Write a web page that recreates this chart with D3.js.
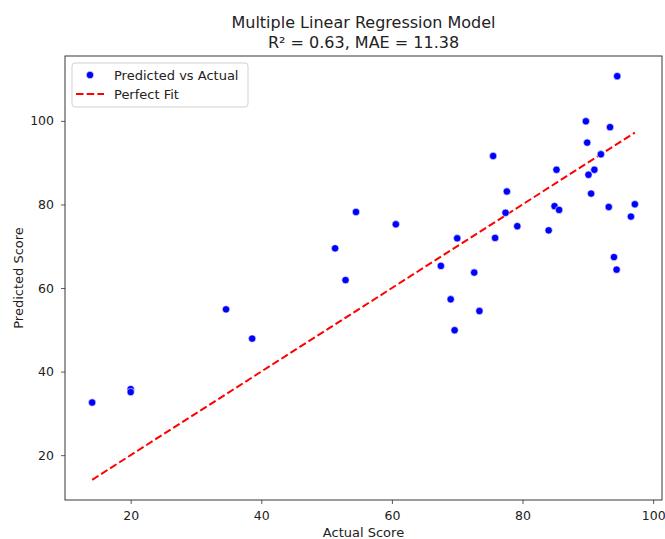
<!DOCTYPE html>
<html>
<head>
<meta charset="utf-8">
<script src="https://cdn.jsdelivr.net/npm/d3@7"></script>
<style>
  body { margin: 0; background: #fff; }
  text { font-family: "DejaVu Sans", sans-serif; fill: #222; }
</style>
</head>
<body>
<svg id="chart" width="665" height="539"></svg>
<script>
// datos
const actual = [14.1, 20.0, 20.0, 34.6, 38.6, 51.3, 54.5, 60.6, 52.9,
  94.5, 89.7, 93.4, 89.9, 92.0, 75.5, 85.2, 91.0, 90.1, 77.6, 90.5,
  84.9, 85.6, 93.2, 97.2, 96.6, 77.4, 79.2, 84.0, 70.0, 75.8,
  67.5, 72.6, 94.0, 94.4, 69.0, 73.4, 69.6];
const predicted = [32.6, 35.8, 35.1, 54.9, 47.9, 69.5, 78.2, 75.25, 61.9,
  110.7, 99.9, 98.5, 94.8, 92.0, 91.6, 88.3, 88.3, 87.1, 83.1, 82.6,
  79.6, 78.7, 79.4, 80.05, 77.1, 78.0, 74.8, 73.8, 71.9, 72.0,
  65.3, 63.7, 67.4, 64.4, 57.3, 54.5, 49.9];
const xTicks = [20, 40, 60, 80, 100];
const yTicks = [20, 40, 60, 80, 100];
const titleLines = ["Multiple Linear Regression Model", "R² = 0.63, MAE = 11.38"];

const svg = d3.select("#chart");
const m = { left: 65, right: 662, top: 56, bottom: 500 };

const points = actual.map((a, i) => ({ a: a, p: predicted[i] }));
const lo = d3.min(actual), hi = d3.max(actual);

// márgenes del 5% como matplotlib
const allY = predicted.concat([lo, hi]);
const xPad = (hi - lo) * 0.05;
const yMin = d3.min(allY), yMax = d3.max(allY);
const yPad = (yMax - yMin) * 0.05;

const x = d3.scaleLinear().domain([lo - xPad, hi + xPad]).range([m.left, m.right]);
const y = d3.scaleLinear().domain([yMin - yPad, yMax + yPad]).range([m.bottom, m.top]);

// ejes
const xAxis = svg.append("g")
  .attr("transform", `translate(0,${m.bottom})`)
  .call(d3.axisBottom(x).tickValues(xTicks).tickSize(4).tickPadding(7));
const yAxis = svg.append("g")
  .attr("transform", `translate(${m.left},0)`)
  .call(d3.axisLeft(y).tickValues(yTicks).tickSize(4).tickPadding(7));
[xAxis, yAxis].forEach(g => {
  g.select(".domain").remove();
  g.selectAll("line").attr("stroke", "#333").attr("stroke-width", 0.8);
  g.selectAll("text").style("font-size", "12.5px").attr("fill", "#222");
});

// marco
svg.append("rect")
  .attr("x", m.left).attr("y", m.top)
  .attr("width", m.right - m.left).attr("height", m.bottom - m.top)
  .attr("fill", "none").attr("stroke", "#222").attr("stroke-width", 0.9);

// línea de ajuste perfecto
svg.append("line")
  .attr("x1", x(lo)).attr("y1", y(lo))
  .attr("x2", x(hi)).attr("y2", y(hi))
  .attr("stroke", "red").attr("stroke-width", 2)
  .attr("stroke-dasharray", "7.5,3.2");

// puntos
svg.selectAll(".dot")
  .data(points)
  .enter()
  .append("circle")
  .attr("class", "dot")
  .attr("cx", d => x(d.a))
  .attr("cy", d => y(d.p))
  .attr("r", 3.7)
  .attr("fill", "blue")
  .attr("stroke", "white")
  .attr("stroke-width", 0.6);

// título
svg.selectAll(".title")
  .data(titleLines)
  .enter()
  .append("text")
  .attr("x", (m.left + m.right) / 2)
  .attr("y", (d, i) => 28 + i * 20)
  .attr("text-anchor", "middle")
  .style("font-size", "16px")
  .text(d => d);

// etiquetas de ejes
svg.append("text")
  .attr("x", (m.left + m.right) / 2).attr("y", 537)
  .attr("text-anchor", "middle")
  .style("font-size", "13px")
  .text("Actual Score");
svg.append("text")
  .attr("transform", `translate(23,${(m.top + m.bottom) / 2}) rotate(-90)`)
  .attr("text-anchor", "middle")
  .style("font-size", "13px")
  .text("Predicted Score");

// leyenda
const lg = svg.append("g");
lg.append("rect")
  .attr("x", 72).attr("y", 63)
  .attr("width", 176).attr("height", 44)
  .attr("rx", 3)
  .attr("fill", "white").attr("stroke", "#ccc").attr("stroke-width", 0.9);
lg.append("circle")
  .attr("cx", 90).attr("cy", 75).attr("r", 3.7)
  .attr("fill", "blue").attr("stroke", "white").attr("stroke-width", 0.6);
lg.append("line")
  .attr("x1", 76).attr("x2", 104).attr("y1", 94).attr("y2", 94)
  .attr("stroke", "red").attr("stroke-width", 2)
  .attr("stroke-dasharray", "7.5,3.2");
lg.append("text").attr("x", 114).attr("y", 80)
  .style("font-size", "13px").text("Predicted vs Actual");
lg.append("text").attr("x", 114).attr("y", 99)
  .style("font-size", "13px").text("Perfect Fit");
</script>
</body>
</html>
